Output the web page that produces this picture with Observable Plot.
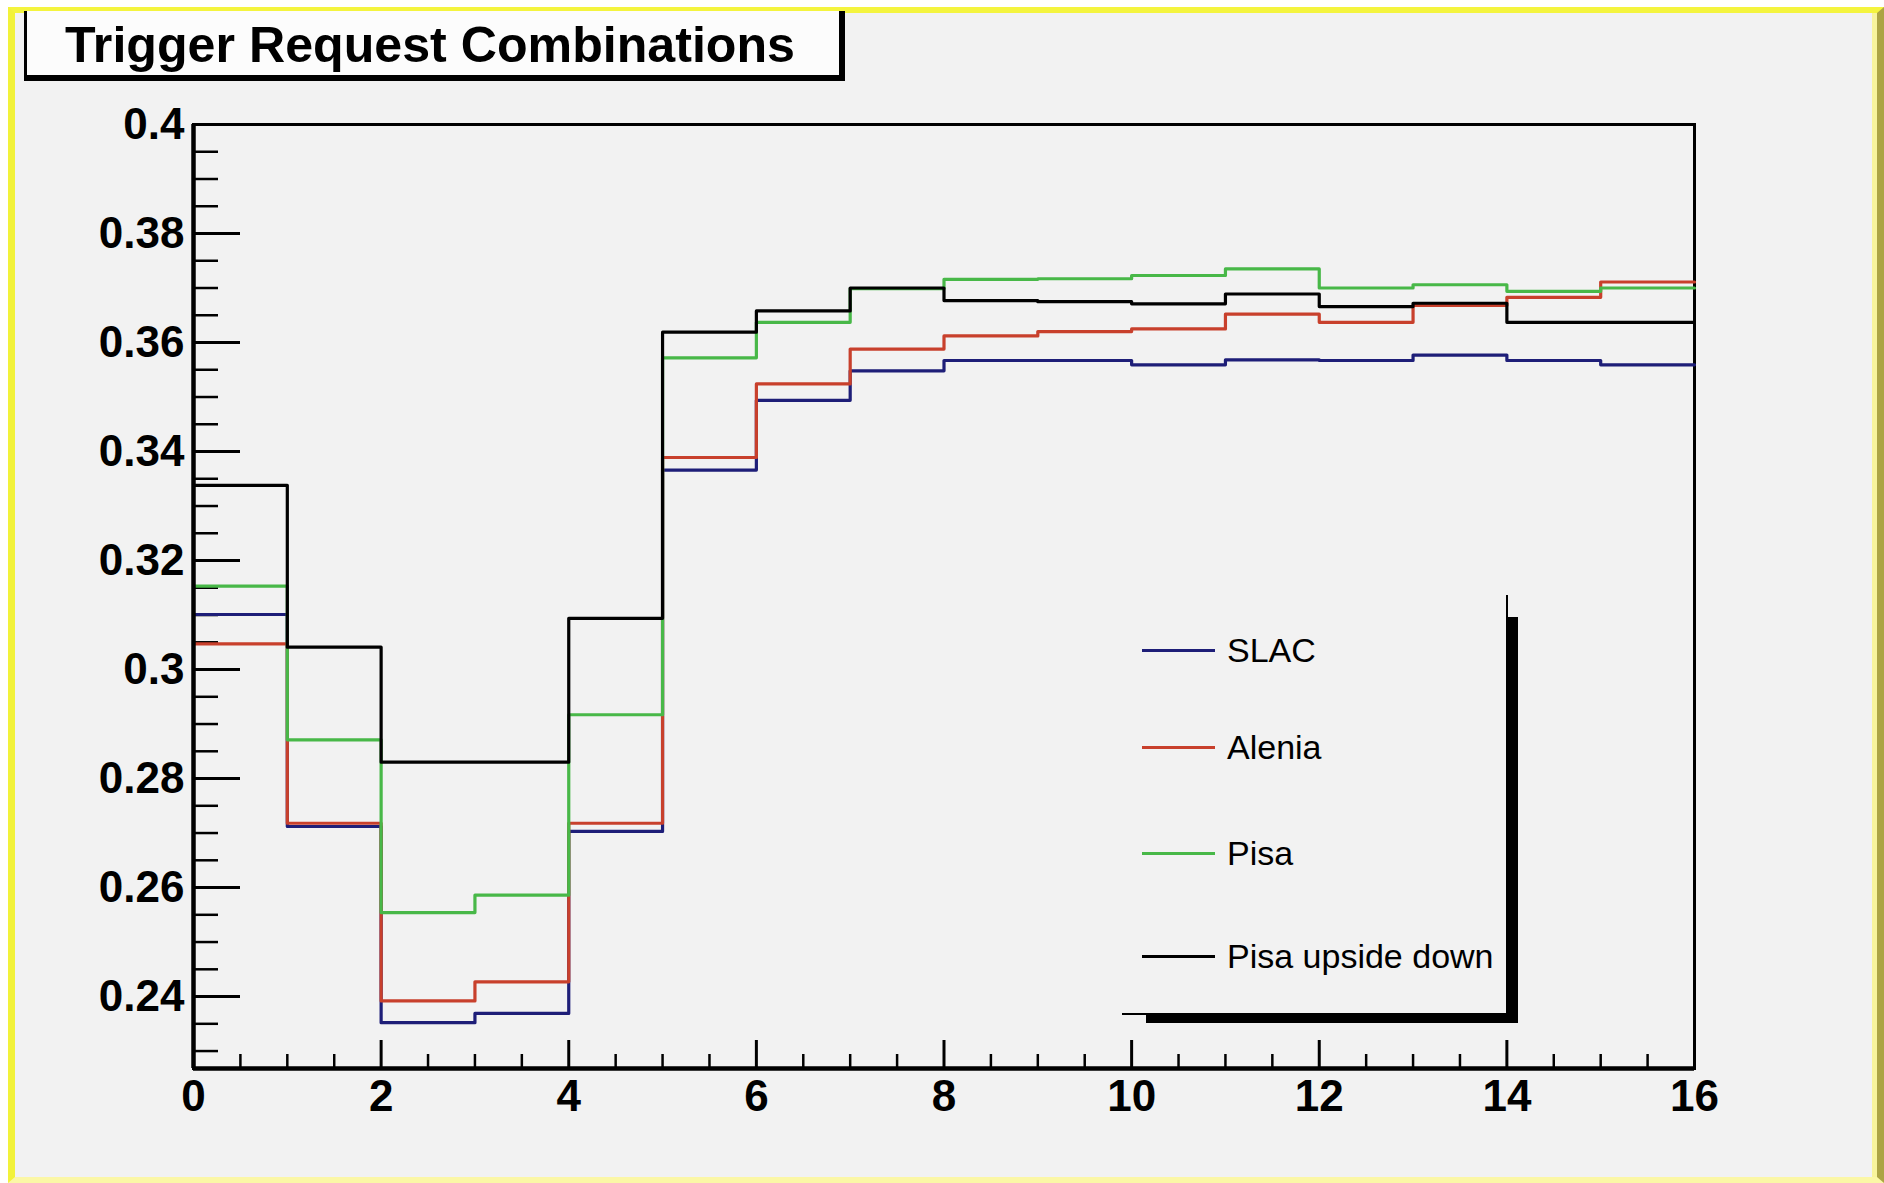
<!DOCTYPE html>
<html>
<head>
<meta charset="utf-8">
<script src="https://cdn.jsdelivr.net/npm/d3@7"></script>
<script src="https://cdn.jsdelivr.net/npm/@observablehq/plot@0.6"></script>
<style>
  html, body { margin: 0; padding: 0; background: #ffffff; }
  #page { position: relative; width: 1884px; height: 1183px; overflow: hidden;
          font-family: "Liberation Sans", Arial, Helvetica, sans-serif; }
  #canvas { position: absolute; left: 8px; top: 7px; width: 1876px; height: 1176px; box-sizing: border-box;
            background: #f2f2f2; border-left: 7px solid #f2f23a; border-top: 6px solid #f4f43e;
            border-right: 7px solid #aca444; border-bottom: 6px solid #fbf7a6;
            box-shadow: inset -5px 0 0 #f8f49c; }
  #chart { position: absolute; left: 0; top: 0; }
  #title { position: absolute; left: 24px; top: 11px; width: 821px; height: 70px; box-sizing: border-box;
           background: #fcfcfc; border-left: 3px solid #000; border-right: 6px solid #000; border-bottom: 6px solid #000; }
  #title svg { position: absolute; left: 0; top: 0; overflow: visible; }
  #legend { position: absolute; left: 1122px; top: 595px; width: 386px; height: 420px; box-sizing: border-box;
            background: #f2f2f2; border-right: 2px solid #000; border-bottom: 2px solid #000; }
  .shadow { position: absolute; background: #000; }
  .entry { position: absolute; left: 1142px; height: 44px; display: flex; align-items: center; white-space: nowrap; }
  .entry .ln { width: 73px; height: 3px; }
  .entry .tx { margin-left: 12px; font-size: 34px; color: #000; }
</style>
</head>
<body>
<div id="page">
  <div id="canvas"></div>
  <div id="chart"></div>
  <div id="title">
    <svg width="812" height="64">
      <text x="38" y="51" font-family="Liberation Sans, Arial, Helvetica, sans-serif" font-size="50" font-weight="bold"
            textLength="730" lengthAdjust="spacingAndGlyphs" fill="#000">Trigger Request Combinations</text>
    </svg>
  </div>
  <div id="legend"></div>
  <div class="shadow" style="left:1506px; top:617px; width:12px; height:406px;"></div>
  <div class="shadow" style="left:1146px; top:1013px; width:372px; height:10px;"></div>
  <div id="entries"></div>
</div>
<script>
// ---- data ----
const seriesNames = ["SLAC", "Alenia", "Pisa", "Pisa upside down"];
const seriesColors = ["#1e1e78", "#c8402c", "#48b848", "#000000"];
const binStart = [0, 1, 2, 3, 4, 5, 6, 7, 8, 9, 10, 11, 12, 13, 14, 15];
const binEndLast = 16;
const slac    = [0.3101, 0.2712, 0.2352, 0.2369, 0.2703, 0.3366, 0.3494, 0.3548, 0.3567, 0.3567, 0.3559, 0.3568, 0.3567, 0.3577, 0.3567, 0.3559];
const alenia  = [0.3047, 0.2718, 0.2392, 0.2427, 0.2718, 0.3389, 0.3524, 0.3588, 0.3612, 0.3620, 0.3625, 0.3652, 0.3637, 0.3668, 0.3683, 0.3711];
const pisa    = [0.3153, 0.2871, 0.2554, 0.2586, 0.2917, 0.3572, 0.3637, 0.3699, 0.3716, 0.3717, 0.3723, 0.3735, 0.3700, 0.3706, 0.3694, 0.3700];
const pisaUD  = [0.3338, 0.3041, 0.2830, 0.2830, 0.3094, 0.3619, 0.3658, 0.3700, 0.3677, 0.3675, 0.3671, 0.3689, 0.3666, 0.3672, 0.3637, 0.3637];
const xTickValues = [0, 2, 4, 6, 8, 10, 12, 14, 16];
const yTickValues = [0.24, 0.26, 0.28, 0.30, 0.32, 0.34, 0.36, 0.38, 0.40];
const xDomain = [0, 16];
const yDomain = [0.2268, 0.4];

// ---- build table ----
const allValues = [slac, alenia, pisa, pisaUD];
const rows = [];
seriesNames.forEach((name, s) => {
  const vals = allValues[s];
  binStart.forEach((x, i) => rows.push({series: name, x, y: vals[i]}));
  rows.push({series: name, x: binEndLast, y: vals[vals.length - 1]});
});

const xMinor = d3.range(0.5, 16, 0.5).filter(v => v % 2 !== 0);
const yMinor = d3.range(0, 35).map(i => +(0.23 + i * 0.005).toFixed(3))
  .filter(v => v <= 0.4 && Math.abs(v * 50 - Math.round(v * 50)) > 1e-6);

const W = 1884, H = 1183;
const mL = 193, mR = 190, mT = 124, mB = 115;
const innerW = W - mL - mR, innerH = H - mT - mB;
const font = "Liberation Sans, Arial, Helvetica, sans-serif";

const chart = Plot.plot({
  width: W, height: H,
  marginLeft: mL, marginRight: mR, marginTop: mT, marginBottom: mB,
  style: {background: "transparent", fontFamily: font, color: "#000", overflow: "visible"},
  x: {domain: xDomain},
  y: {domain: yDomain},
  color: {domain: seriesNames, range: seriesColors},
  marks: [
    Plot.frame({stroke: "#000", strokeWidth: 3}),
    Plot.ruleX(xTickValues, {stroke: "#000", strokeWidth: 3, insetTop: innerH - 28}),
    Plot.ruleX(xMinor, {stroke: "#000", strokeWidth: 2.5, insetTop: innerH - 14}),
    Plot.ruleY(yTickValues, {stroke: "#000", strokeWidth: 3, insetRight: innerW - 47}),
    Plot.ruleY(yMinor, {stroke: "#000", strokeWidth: 2.5, insetRight: innerW - 25}),
    Plot.line(rows, {x: "x", y: "y", z: "series", stroke: "series", curve: "step-after", strokeWidth: 3.2}),
    Plot.ruleX([xDomain[0]], {stroke: "#000", strokeWidth: 4.5}),
    Plot.ruleY([yDomain[0]], {stroke: "#000", strokeWidth: 4.5}),
    Plot.axisX({ticks: xTickValues, tickSize: 0, tickPadding: 11, label: null,
                fontSize: 44, fontWeight: "bold", tickFormat: d => String(d)}),
    Plot.axisY({ticks: yTickValues, tickSize: 0, tickPadding: 9, label: null,
                fontSize: 44, fontWeight: "bold", tickFormat: d => String(Math.round(d * 100) / 100)})
  ]
});
document.getElementById("chart").appendChild(chart);

// ---- legend ----
const entryCenters = [650, 747, 853, 956];
const entries = document.getElementById("entries");
seriesNames.forEach((name, i) => {
  const e = document.createElement("div");
  e.className = "entry";
  e.style.top = (entryCenters[i] - 22) + "px";
  const ln = document.createElement("span");
  ln.className = "ln";
  ln.style.background = seriesColors[i];
  const tx = document.createElement("span");
  tx.className = "tx";
  tx.textContent = name;
  e.appendChild(ln); e.appendChild(tx);
  entries.appendChild(e);
});
</script>
</body>
</html>
